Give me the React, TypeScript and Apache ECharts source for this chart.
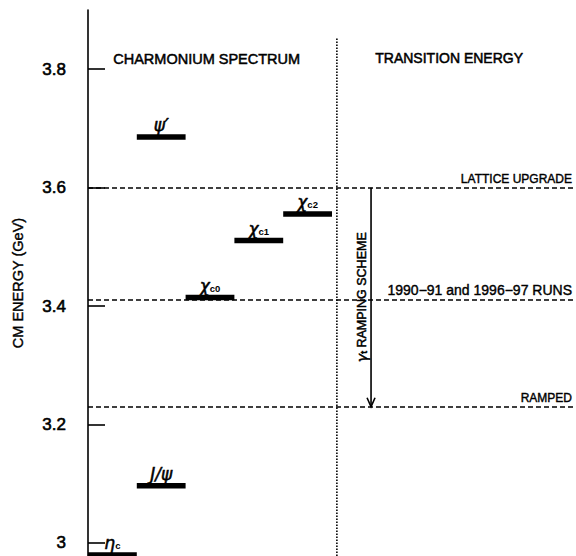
import React, { useEffect, useRef } from "react";
import * as echarts from "echarts";

// Charmonium states: rich-text label, mass (GeV), column on the horizontal layout
const stateLabels = ["{g|η}{s|c}", "{g|J/ψ}", "{g|χ}{s|c0}", "{g|χ}{s|c1}", "{g|χ}{s|c2}", "{g|ψ′}"];
const stateMasses = [2.98, 3.097, 3.415, 3.511, 3.556, 3.686];
const stateColumns = [0, 1, 2, 3, 4, 1];

// Transition-energy levels
const energyLevels = [3.6, 3.41, 3.23];
const energyLabels = ["LATTICE UPGRADE", "1990−91 and 1996−97 RUNS", "RAMPED"];
const energyLabelSizes = [12, 14, 12];

// Ramping scheme arrow: from the lattice upgrade level down to the ramped level
const rampColumn = 5.8;
const rampFrom = 3.6;
const rampTo = 3.23;
const rampLabel = "{g|γ}{s|t} RAMPING SCHEME";

// Divider between the two panels
const dividerColumn = 5.1;
const dividerTop = 3.852;

const yTicks = [3, 3.2, 3.4, 3.6, 3.8];
const yMin = 2.978;
const yMax = 3.9;

const FONT = "'Liberation Sans', Arial, sans-serif";
const GREEK = "'DejaVu Sans', sans-serif";

export default function App() {
  const ref = useRef<HTMLDivElement>(null);

  useEffect(() => {
    if (!ref.current) return;
    const chart = echarts.init(ref.current, null, { renderer: "svg" });

    const stateData = stateMasses.map((m, i) => [stateColumns[i], stateColumns[i] + 1, m, i]);

    const heavy = { stroke: "#000", lineWidth: 0.5 };

    const option: any = {
      animation: false,
      backgroundColor: "#fff",
      textStyle: { fontFamily: FONT },
      grid: { left: 88, right: 0, top: 10, bottom: 0 },
      xAxis: { type: "value", min: 0, max: 10, show: false },
      yAxis: {
        type: "value",
        min: yMin,
        max: yMax,
        axisLine: { show: true, lineStyle: { color: "#000", width: 1.6 } },
        axisTick: {
          show: true,
          inside: true,
          length: 17,
          customValues: yTicks,
          lineStyle: { color: "#000", width: 1.6 },
        },
        axisLabel: {
          customValues: yTicks,
          margin: 22,
          fontSize: 17,
          color: "#000",
          fontFamily: FONT,
          textBorderColor: "#000",
          textBorderWidth: 0.6,
          formatter: (v: number) => (Math.abs(v - 3) < 1e-9 ? "3" : v.toFixed(1)),
        },
        splitLine: { show: false },
        name: "CM ENERGY (GeV)",
        nameLocation: "middle",
        nameGap: 63,
        nameTextStyle: {
          fontSize: 14.5,
          color: "#000",
          fontFamily: FONT,
          textBorderColor: "#000",
          textBorderWidth: 0.4,
        },
      },
      graphic: [
        {
          type: "text",
          left: 113,
          top: 51,
          style: { text: "CHARMONIUM SPECTRUM", fontSize: 14.5, fill: "#000", fontFamily: FONT, ...heavy },
        },
        {
          type: "text",
          left: 375,
          top: 51,
          style: { text: "TRANSITION ENERGY", fontSize: 14, fill: "#000", fontFamily: FONT, ...heavy },
        },
      ],
      series: [
        {
          type: "line",
          data: [],
          silent: true,
          markLine: {
            silent: true,
            symbol: "none",
            lineStyle: { type: [5, 3], color: "#000", width: 1.6 },
            label: {
              position: "insideEndTop",
              distance: [4, 3],
              formatter: "{b}",
              color: "#000",
              fontFamily: FONT,
              textBorderColor: "#000",
              textBorderWidth: 0.4,
            },
            data: energyLevels.map((v, i) => ({
              yAxis: v,
              name: energyLabels[i],
              label: { fontSize: energyLabelSizes[i] },
            })),
          },
        },
        {
          type: "line",
          silent: true,
          symbol: "none",
          lineStyle: { type: [1.5, 1.5], color: "#000", width: 1.6 },
          data: [
            [dividerColumn, dividerTop],
            [dividerColumn, yMin],
          ],
        },
        {
          type: "custom",
          silent: true,
          clip: false,
          encode: { x: [0, 1], y: 2 },
          data: stateData,
          renderItem: (params: any, api: any) => {
            const x0 = api.value(0);
            const x1 = api.value(1);
            const y = api.value(2);
            const idx = api.value(3);
            const p0 = api.coord([x0, y]);
            const p1 = api.coord([x1, y]);
            return {
              type: "group",
              children: [
                {
                  type: "rect",
                  shape: { x: p0[0], y: p0[1] - 2.5, width: p1[0] - p0[0], height: 5.5 },
                  style: { fill: "#000" },
                },
                {
                  type: "text",
                  x: (p0[0] + p1[0]) / 2,
                  y: p0[1] - 3,
                  style: {
                    text: stateLabels[idx],
                    align: "center",
                    verticalAlign: "bottom",
                    fill: "#000",
                    rich: {
                      g: { fontSize: 17, fontStyle: "italic", fontFamily: GREEK, fill: "#000", ...heavy },
                      s: { fontSize: 9.5, fontWeight: "bold", fontFamily: FONT, fill: "#000", padding: [5, 0, 0, 0] },
                    },
                  },
                },
              ],
            };
          },
        },
        {
          type: "custom",
          silent: true,
          clip: false,
          encode: { x: 0, y: [1, 2] },
          data: [[rampColumn, rampFrom, rampTo]],
          renderItem: (params: any, api: any) => {
            const x = api.value(0);
            const top = api.coord([x, api.value(1)]);
            const bot = api.coord([x, api.value(2)]);
            return {
              type: "group",
              children: [
                {
                  type: "line",
                  shape: { x1: top[0], y1: top[1], x2: bot[0], y2: bot[1] },
                  style: { stroke: "#000", lineWidth: 1.6 },
                },
                {
                  type: "polyline",
                  shape: {
                    points: [
                      [bot[0] - 4, bot[1] - 9],
                      [bot[0], bot[1]],
                      [bot[0] + 4, bot[1] - 9],
                    ],
                  },
                  style: { stroke: "#000", lineWidth: 1.6, fill: null },
                },
                {
                  type: "text",
                  x: top[0] - 9,
                  y: (top[1] + bot[1]) / 2,
                  rotation: Math.PI / 2,
                  style: {
                    text: rampLabel,
                    align: "center",
                    verticalAlign: "middle",
                    fill: "#000",
                    rich: {
                      g: { fontSize: 14, fontStyle: "italic", fontFamily: GREEK, fill: "#000", ...heavy },
                      s: { fontSize: 8.5, fontWeight: "bold", fontFamily: FONT, fill: "#000", padding: [4, 0, 0, 0] },
                    },
                    fontSize: 12.5,
                    fontFamily: FONT,
                    ...heavy,
                  },
                },
              ],
            };
          },
        },
      ],
    };

    chart.setOption(option);
    return () => chart.dispose();
  }, []);

  return (
    <div
      ref={ref}
      style={{ position: "fixed", left: 0, top: 0, width: 576, height: 556, background: "#fff" }}
    />
  );
}
